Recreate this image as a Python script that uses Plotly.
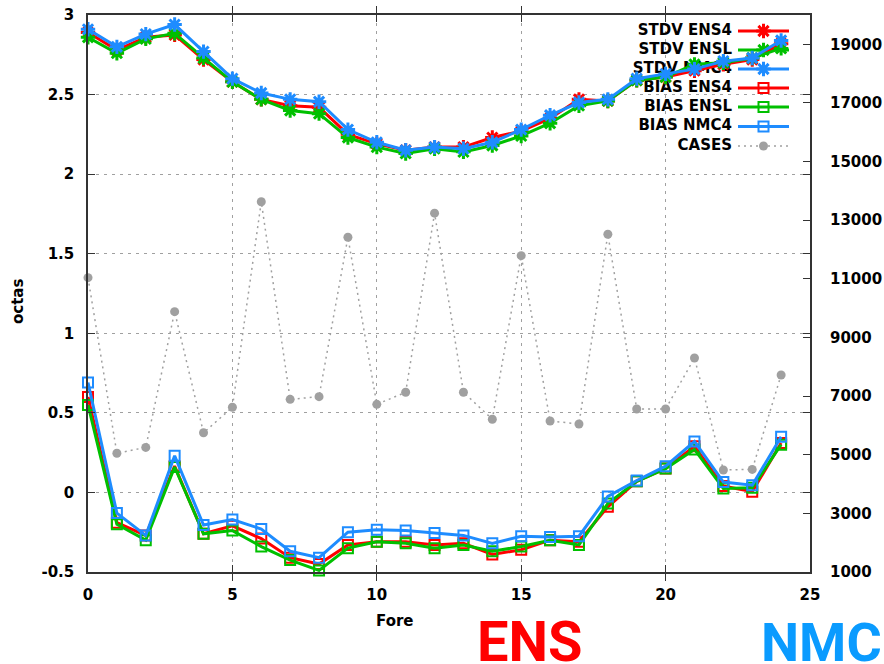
import plotly.graph_objects as go

# Forecast hour index
fore = list(range(25))

# Standard deviation (octas)
stdv_ens4 = [2.89, 2.78, 2.86, 2.875, 2.72, 2.58, 2.47, 2.43, 2.42, 2.25, 2.19, 2.15, 2.17,
             2.17, 2.23, 2.27, 2.35, 2.47, 2.46, 2.59, 2.61, 2.65, 2.69, 2.72, 2.82]
stdv_ensl = [2.86, 2.76, 2.85, 2.885, 2.73, 2.58, 2.47, 2.40, 2.38, 2.23, 2.17, 2.13, 2.16,
             2.14, 2.18, 2.24, 2.32, 2.43, 2.46, 2.59, 2.61, 2.69, 2.70, 2.73, 2.79]
stdv_nmc4 = [2.91, 2.80, 2.88, 2.94, 2.77, 2.60, 2.51, 2.47, 2.455, 2.28, 2.20, 2.15, 2.17,
             2.16, 2.20, 2.28, 2.37, 2.45, 2.47, 2.60, 2.63, 2.66, 2.71, 2.73, 2.84]

# Bias (octas)
bias_ens4 = [0.60, -0.19, -0.27, 0.165, -0.26, -0.21, -0.29, -0.41, -0.45, -0.33, -0.31, -0.31, -0.33,
             -0.32, -0.39, -0.36, -0.30, -0.31, -0.09, 0.07, 0.15, 0.29, 0.04, 0.005, 0.31]
bias_ensl = [0.55, -0.20, -0.30, 0.16, -0.26, -0.24, -0.34, -0.425, -0.49, -0.35, -0.31, -0.32, -0.35,
             -0.33, -0.37, -0.34, -0.30, -0.33, -0.07, 0.07, 0.15, 0.27, 0.025, 0.03, 0.30]
bias_nmc4 = [0.69, -0.13, -0.27, 0.23, -0.205, -0.17, -0.23, -0.37, -0.41, -0.25, -0.235, -0.24, -0.255,
             -0.27, -0.32, -0.275, -0.28, -0.275, -0.025, 0.075, 0.165, 0.32, 0.065, 0.045, 0.35]

# Number of verification cases (right axis)
cases = [11040, 5050, 5250, 9880, 5750, 6620, 13630, 6890, 6980, 12420, 6720, 7130, 13240,
         7130, 6210, 11790, 6150, 6050, 12520, 6560, 6560, 8300, 4480, 4500, 7720]

x_ticks = [0, 5, 10, 15, 20, 25]
y_ticks = [-0.5, 0, 0.5, 1, 1.5, 2, 2.5, 3]
y_ticktext = ["-0.5", "0", "0.5", "1", "1.5", "2", "2.5", "3"]
y2_ticks = [1000, 3000, 5000, 7000, 9000, 11000, 13000, 15000, 17000, 19000]

RED = "#ff0000"
GREEN = "#00c000"
BLUE = "#1e8cff"
GRAY = "#a0a0a0"
AXIS = "#333333"

FONT = dict(family="DejaVu Sans", size=15, color="black", weight="bold")

# Plot area in pixels (left, right, top, bottom) within the 884x664 page
PL, PR, PT, PB = 88, 810, 15, 572
PW, PH = PR - PL, PB - PT

series = [
    ("STDV ENS4", stdv_ens4, RED, "asterisk-open"),
    ("STDV ENSL", stdv_ensl, GREEN, "asterisk-open"),
    ("STDV NMC4", stdv_nmc4, BLUE, "asterisk-open"),
    ("BIAS ENS4", bias_ens4, RED, "square-open"),
    ("BIAS ENSL", bias_ensl, GREEN, "square-open"),
    ("BIAS NMC4", bias_nmc4, BLUE, "square-open"),
]


def marker_style(color, symbol):
    if symbol == "asterisk-open":
        return dict(symbol=symbol, size=12, color=color, line=dict(color=color, width=3))
    return dict(symbol=symbol, size=10, color=color, line=dict(color=color, width=2))


def px_x(px):
    return (px - PL) / PW


def px_y(py):
    return (PB - py) / PH


fig = go.Figure()

# Key (drawn on the base subplot so the curves sit above it)
key_text_x = px_x(732)
key_line_x = [px_x(738), px_x(789)]
key_mid_x = px_x(763.5)
key_rows = [31, 50, 69, 88, 107, 126.5, 146]

key_entries = [(n, c, s) for n, _, c, s in series] + [("CASES", GRAY, "circle")]
for (name, color, symbol), row in zip(key_entries, key_rows):
    ky = px_y(row)
    fig.add_trace(go.Scatter(
        x=[key_text_x], y=[ky], mode="text", text=[name], textposition="middle left",
        textfont=FONT, xaxis="x", yaxis="y", hoverinfo="skip", showlegend=False))
    if name == "CASES":
        line = dict(color=GRAY, width=1.5, dash="2px,4px")
        mk = dict(symbol="circle", size=9, color=GRAY)
    else:
        line = dict(color=color, width=3)
        mk = marker_style(color, symbol)
    fig.add_trace(go.Scatter(
        x=key_line_x, y=[ky, ky], mode="lines", line=line,
        xaxis="x", yaxis="y", hoverinfo="skip", showlegend=False))
    fig.add_trace(go.Scatter(
        x=[key_mid_x], y=[ky], mode="markers", marker=mk,
        xaxis="x", yaxis="y", hoverinfo="skip", showlegend=False))

# Data curves
for name, vals, color, symbol in series:
    fig.add_trace(go.Scatter(
        x=fore, y=vals, name=name, mode="lines+markers",
        line=dict(color=color, width=3), marker=marker_style(color, symbol),
        xaxis="x2", yaxis="y2", cliponaxis=False, showlegend=False))

fig.add_trace(go.Scatter(
    x=fore, y=cases, name="CASES", mode="lines+markers",
    line=dict(color=GRAY, width=1.5, dash="2px,4px"),
    marker=dict(symbol="circle", size=9, color=GRAY),
    xaxis="x2", yaxis="y3", cliponaxis=False, showlegend=False))

grid = dict(showgrid=True, gridcolor=GRAY, gridwidth=1, griddash="3px,5px")

fig.update_layout(
    width=884, height=664,
    margin=dict(l=PL, r=884 - PR, t=PT, b=664 - PB, pad=0, autoexpand=False),
    paper_bgcolor="white", plot_bgcolor="white",
    showlegend=False,
    font=FONT,
    xaxis=dict(range=[0, 1], visible=False, fixedrange=True, automargin=False),
    yaxis=dict(range=[0, 1], visible=False, fixedrange=True, automargin=False),
    xaxis2=dict(
        overlaying="x", anchor="y2", range=[0, 25], automargin=False,
        tickvals=x_ticks, ticktext=[str(v) for v in x_ticks],
        ticks="inside", ticklen=7, tickcolor=AXIS, tickwidth=1,
        showline=True, linecolor=AXIS, linewidth=1.5, mirror="allticks",
        zeroline=False, tickfont=FONT, ticklabelstandoff=8, **grid),
    yaxis2=dict(
        overlaying="y", anchor="x2", range=[-0.5, 3], automargin=False,
        tickvals=y_ticks, ticktext=y_ticktext,
        ticks="inside", ticklen=7, tickcolor=AXIS, tickwidth=1,
        showline=True, linecolor=AXIS, linewidth=1.5, mirror="allticks",
        zeroline=False, tickfont=FONT, ticklabelstandoff=9, **grid),
    yaxis3=dict(
        overlaying="y", anchor="x2", side="right", range=[1000, 20000], automargin=False,
        tickvals=y2_ticks, ticktext=[str(v) for v in y2_ticks],
        ticks="inside", ticklen=7, tickcolor=AXIS, tickwidth=1,
        showline=False, showgrid=False, zeroline=False,
        tickfont=FONT, ticklabelstandoff=19),
    annotations=[
        dict(text="Fore", xref="paper", yref="paper", x=px_x(395), y=px_y(621),
             showarrow=False, font=FONT, xanchor="center", yanchor="middle"),
        dict(text="octas", xref="paper", yref="paper", x=px_x(18), y=px_y(302),
             showarrow=False, font=FONT, textangle=-90, xanchor="center", yanchor="middle"),
        dict(text="ENS", xref="paper", yref="paper", x=px_x(530), y=px_y(642),
             showarrow=False, xanchor="center", yanchor="middle",
             font=dict(family="Roboto", size=56, color="#ff0000", weight="bold")),
        dict(text="NMC", xref="paper", yref="paper", x=px_x(821), y=px_y(642),
             showarrow=False, xanchor="center", yanchor="middle",
             font=dict(family="Roboto", size=54, color="#0a9bff", weight="bold")),
    ],
)

fig.write_html("out.html")
